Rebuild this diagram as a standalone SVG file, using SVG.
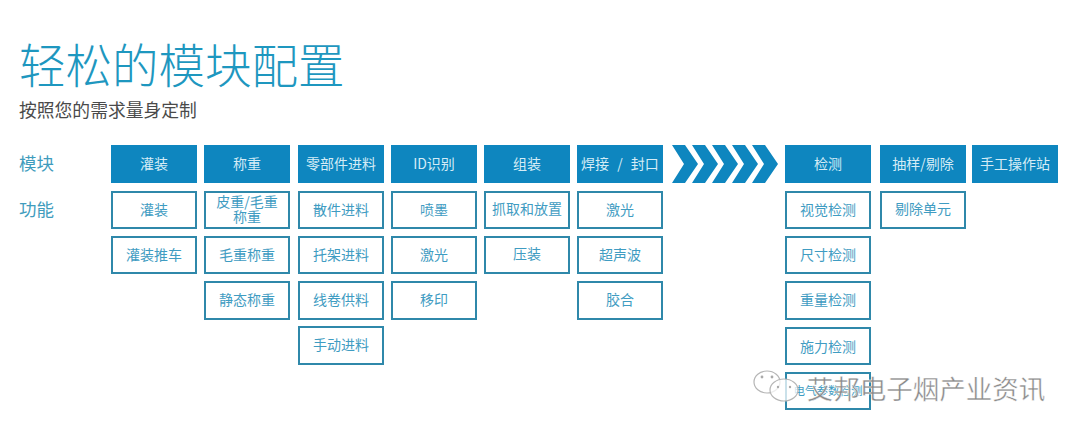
<svg xmlns="http://www.w3.org/2000/svg" width="1080" height="437" viewBox="0 0 1080 437">
<style>
text{font-family:"Noto Sans CJK SC","Noto Sans",sans-serif;text-anchor:middle;dominant-baseline:central}
.h rect{fill:#0e86bf}
.h text{fill:#d5ecf6;font-size:14px}
.b rect{fill:#fff;stroke:#2f88aa;stroke-width:2}
.b text{fill:#3f9cc2;font-size:14px}
.l{fill:#3f9cbd;font-size:17.5px;text-anchor:start}
.c{fill:#0e86bf}
.w{fill:#8a8a8a;stroke:#fff;stroke-width:.4}
</style>
<rect width="1080" height="437" fill="#fff"/>
<text x="19" y="62" style="font-size:46.5px;fill:#1e97bf;text-anchor:start;font-weight:300">轻松的模块配置</text>
<text x="19" y="109" style="font-size:17.8px;fill:#4a4a4a;text-anchor:start">按照您的需求量身定制</text>
<text class="l" x="19" y="162.5">模块</text>
<text class="l" x="19" y="208.5">功能</text>
<g id="m1" class="h"><rect x="111" y="145" width="86" height="38"/><text x="154" y="162.5">灌装</text></g>
<g id="m2" class="h"><rect x="204" y="145" width="86" height="38"/><text x="247" y="162.5">称重</text></g>
<g id="m3" class="h"><rect x="298" y="145" width="86" height="38"/><text x="341" y="162.5">零部件进料</text></g>
<g id="m4" class="h"><rect x="391" y="145" width="86" height="38"/><text x="434" y="162.5">ID识别</text></g>
<g id="m5" class="h"><rect x="484" y="145" width="86" height="38"/><text x="527" y="162.5">组装</text></g>
<g id="m6" class="h"><rect x="577" y="145" width="86" height="38"/><text x="620" y="162.5" style="word-spacing:5px">焊接 / 封口</text></g>
<g id="m7" class="h"><rect x="785" y="145" width="86" height="38"/><text x="828" y="162.5">检测</text></g>
<g id="m8" class="h"><rect x="880" y="145" width="86" height="38"/><text x="923" y="162.5">抽样/剔除</text></g>
<g id="m9" class="h"><rect x="972" y="145" width="86" height="38"/><text x="1015" y="162.5">手工操作站</text></g>
<g id="chevrons" class="c">
<polygon points="672,145 685,145 698,164 685,183 672,183 684,164"/>
<polygon points="692,145 705,145 718,164 705,183 692,183 704,164"/>
<polygon points="712,145 725,145 738,164 725,183 712,183 724,164"/>
<polygon points="732,145 745,145 758,164 745,183 732,183 744,164"/>
<polygon points="752,145 765,145 778,164 765,183 752,183 764,164"/>
</g>
<g id="f1a" class="b"><rect x="112" y="192" width="84" height="36"/><text x="154" y="208.5">灌装</text></g>
<g id="f1b" class="b"><rect x="112" y="237" width="84" height="36"/><text x="154" y="253.5">灌装推车</text></g>
<g id="f2a" class="b"><rect x="205" y="192" width="84" height="36"/><text x="247" y="201">皮重/毛重</text><text x="247" y="215.5">称重</text></g>
<g id="f2b" class="b"><rect x="205" y="237" width="84" height="36"/><text x="247" y="253.5">毛重称重</text></g>
<g id="f2c" class="b"><rect x="205" y="282" width="84" height="37"/><text x="247" y="299">静态称重</text></g>
<g id="f3a" class="b"><rect x="299" y="192" width="84" height="36"/><text x="341" y="208.5">散件进料</text></g>
<g id="f3b" class="b"><rect x="299" y="237" width="84" height="36"/><text x="341" y="253.5">托架进料</text></g>
<g id="f3c" class="b"><rect x="299" y="282" width="84" height="37"/><text x="341" y="299">线卷供料</text></g>
<g id="f3d" class="b"><rect x="299" y="327" width="84" height="37"/><text x="341" y="344">手动进料</text></g>
<g id="f4a" class="b"><rect x="392" y="192" width="84" height="36"/><text x="434" y="208.5">喷墨</text></g>
<g id="f4b" class="b"><rect x="392" y="237" width="84" height="36"/><text x="434" y="253.5">激光</text></g>
<g id="f4c" class="b"><rect x="392" y="282" width="84" height="37"/><text x="434" y="299">移印</text></g>
<g id="f5a" class="b"><rect x="485" y="192" width="84" height="36"/><text x="527" y="207.5">抓取和放置</text></g>
<g id="f5b" class="b"><rect x="485" y="237" width="84" height="36"/><text x="527" y="252.5">压装</text></g>
<g id="f6a" class="b"><rect x="578" y="192" width="84" height="36"/><text x="620" y="208.5">激光</text></g>
<g id="f6b" class="b"><rect x="578" y="237" width="84" height="36"/><text x="620" y="253.5">超声波</text></g>
<g id="f6c" class="b"><rect x="578" y="282" width="84" height="37"/><text x="620" y="299">胶合</text></g>
<g id="f7a" class="b"><rect x="786" y="192" width="84" height="36"/><text x="828" y="208.5">视觉检测</text></g>
<g id="f7b" class="b"><rect x="786" y="237" width="84" height="36"/><text x="828" y="253.5">尺寸检测</text></g>
<g id="f7c" class="b"><rect x="786" y="282" width="84" height="37"/><text x="828" y="299">重量检测</text></g>
<g id="f7d" class="b"><rect x="786" y="328" width="84" height="36"/><text x="828" y="345.5">施力检测</text></g>
<g id="f7e" class="b"><rect x="786" y="373" width="84" height="36"/><text x="828" y="390" style="font-size:11.5px">电气参数检测</text></g>
<g id="f8a" class="b"><rect x="881" y="192" width="84" height="36"/><text x="923" y="207.5">剔除单元</text></g>
<g id="watermark">
<g fill="#fff" fill-opacity=".75" stroke="#b5b5b5" stroke-width="1.2">
<ellipse cx="767" cy="382" rx="13" ry="11"/>
<ellipse cx="784" cy="390" rx="14" ry="11"/>
</g>
<g fill="#aaa"><circle cx="762" cy="377" r="1.4"/><circle cx="772" cy="377" r="1.4"/><circle cx="778" cy="387" r="1.2"/><circle cx="790" cy="387" r="1.2"/></g>
<text class="w" x="926" y="387" style="font-size:26.5px">艾邦电子烟产业资讯</text>
</g>
</svg>
